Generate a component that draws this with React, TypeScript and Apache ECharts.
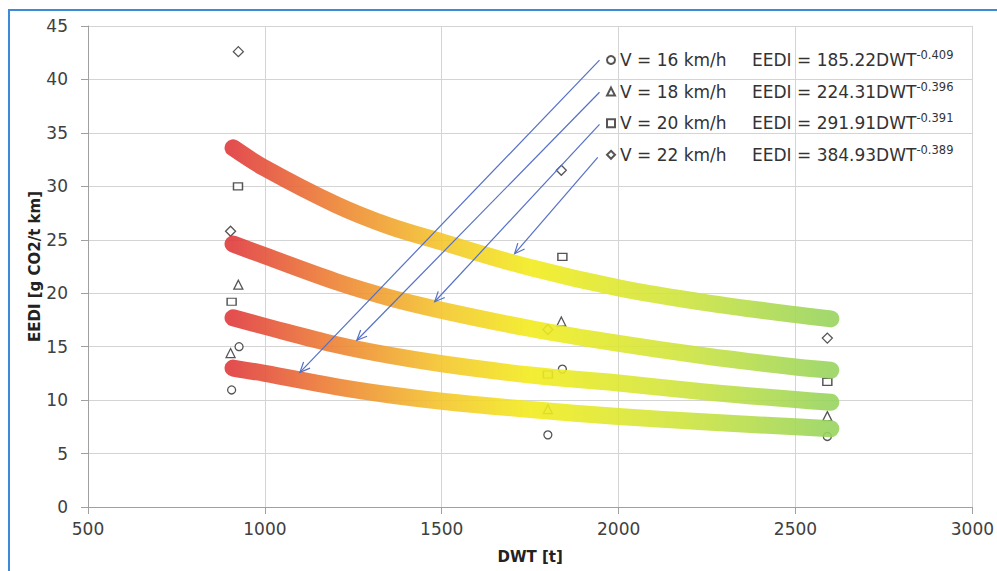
import React, { useEffect, useRef } from 'react';
import * as echarts from 'echarts';

// Fitted curves
const dwtCurve = [910, 1000, 1200, 1350, 1500, 1750, 2000, 2250, 2500, 2600];
const curve16 = [13.0, 12.5, 11.26, 10.5, 9.9, 9.12, 8.47, 7.95, 7.5, 7.33];
const curve18 = [17.7, 16.9, 15.2, 14.2, 13.4, 12.35, 11.6, 10.75, 10.05, 9.8];
const curve20 = [24.6, 23.5, 21.1, 19.6, 18.4, 16.7, 15.3, 14.1, 13.1, 12.8];
const curve22 = [33.6, 31.7, 28.3, 26.3, 24.8, 22.4, 20.5, 19.1, 18.0, 17.6];

// Measured points [DWT, EEDI]
const points16 = [[927, 15.0], [906, 10.95], [1841, 12.9], [1800, 6.75], [2590, 6.6]];
const points18 = [[925, 20.8], [903, 14.4], [1838, 17.35], [1800, 9.15], [2590, 8.5]];
const points20 = [[924, 30.0], [906, 19.2], [1841, 23.4], [1800, 12.4], [2590, 11.7]];
const points22 = [[925, 42.6], [903, 25.8], [1838, 31.5], [1800, 16.6], [2590, 15.8]];

// Legend texts
const speedNames = ['V = 16 km/h', 'V = 18 km/h', 'V = 20 km/h', 'V = 22 km/h'];
const coefs = ['185.22', '224.31', '291.91', '384.93'];
const exps = ['-0.409', '-0.396', '-0.391', '-0.389'];
const symbols = ['circle', 'triangle', 'rect', 'diamond'];
const symbolSizes: any[] = [8, 9, [9, 7], [10, 10]];

// Annotation arrows [x1, y1, x2, y2] in data space
const arrows = [
  [1946, 41.8, 1099, 12.6],
  [1946, 38.8, 1260, 15.6],
  [1946, 35.8, 1480, 19.2],
  [1941, 32.7, 1706, 23.7],
];

const xTicks = { min: 500, max: 3000, interval: 500 };
const yTicks = { min: 0, max: 45, interval: 5 };

const FONT = 'DejaVu Sans';

export default function App() {
  const ref = useRef<HTMLDivElement>(null);
  useEffect(() => {
    document.body.style.margin = '0';
    const chart = echarts.init(ref.current!, null, { renderer: 'svg' });
    const grad = () =>
      new echarts.graphic.LinearGradient(0, 0, 1, 0, [
        { offset: 0, color: '#e03c3c' },
        { offset: 0.15, color: '#ec7a34' },
        { offset: 0.35, color: '#f4c62c' },
        { offset: 0.5, color: '#f2ec1e' },
        { offset: 0.75, color: '#cfe43e' },
        { offset: 1, color: '#98d45e' },
      ]);
    const curves = [curve16, curve18, curve20, curve22];
    const pointSets = [points16, points18, points20, points22];

    const lineSeries = curves.map((c, i) => ({
      type: 'line',
      name: 'fit' + i,
      data: dwtCurve.map((d, j) => [d, c[j]]),
      smooth: 0.35,
      showSymbol: false,
      symbol: 'none',
      z: 3,
      lineStyle: { width: 17, cap: 'round', join: 'round', color: grad(), opacity: 0.9 },
      silent: true,
    }));
    const scatterSeries = pointSets.map((p, i) => ({
      type: 'scatter',
      name: speedNames[i],
      data: p,
      symbol: symbols[i],
      symbolSize: symbolSizes[i],
      z: 2,
      itemStyle: { color: '#ffffff', borderColor: '#2a2a2a', borderWidth: 1.3 },
    }));
    const arrowColor = '#5470c6';
    const arrowSeries = {
      type: 'custom',
      name: 'arrows',
      data: arrows,
      encode: { x: [0, 2], y: [1, 3] },
      z: 5,
      silent: true,
      renderItem: (params: any, api: any) => {
        const p1 = api.coord([api.value(0), api.value(1)]);
        const p2 = api.coord([api.value(2), api.value(3)]);
        const ang = Math.atan2(p2[1] - p1[1], p2[0] - p1[0]);
        const L = 11;
        const A = 0.42;
        const h1 = [p2[0] - L * Math.cos(ang - A), p2[1] - L * Math.sin(ang - A)];
        const h2 = [p2[0] - L * Math.cos(ang + A), p2[1] - L * Math.sin(ang + A)];
        return {
          type: 'group',
          children: [
            { type: 'line', shape: { x1: p1[0], y1: p1[1], x2: p2[0], y2: p2[1] }, style: { stroke: arrowColor, lineWidth: 1.2 } },
            { type: 'polyline', shape: { points: [h1, p2, h2] }, style: { stroke: arrowColor, lineWidth: 1.2, fill: 'none' } },
          ],
        };
      },
    };

    const option: any = {
      animation: false,
      backgroundColor: '#ffffff',
      grid: { left: 88, right: 24, top: 26, bottom: 64 },
      graphic: [
        {
          type: 'rect',
          shape: { x: 9, y: 10, width: 1010, height: 600 },
          style: { fill: 'none', stroke: '#3d8bd8', lineWidth: 2 },
          z: 0,
          silent: true,
        },
      ],
      legend: {
        data: speedNames,
        orient: 'vertical',
        left: 601,
        top: 44,
        itemWidth: 8,
        itemHeight: 8,
        itemGap: 12.1,
        selectedMode: false,
        formatter: (name: string) => {
          const i = speedNames.indexOf(name);
          return `{v|${name}}{e|EEDI = ${coefs[i]}DWT}{s|${exps[i]}}`;
        },
        textStyle: {
          fontFamily: FONT,
          fontSize: 17,
          color: '#333',
          rich: {
            v: { fontFamily: FONT, fontSize: 17, color: '#333', width: 132, lineHeight: 22 },
            e: { fontFamily: FONT, fontSize: 17, color: '#333', lineHeight: 22 },
            s: { fontFamily: FONT, fontSize: 11.5, color: '#333', lineHeight: 14, verticalAlign: 'top' },
          },
        },
      },
      xAxis: {
        type: 'value',
        ...xTicks,
        name: 'DWT [t]',
        nameLocation: 'middle',
        nameGap: 42,
        nameTextStyle: { fontFamily: FONT, fontSize: 15, fontWeight: 'bold', color: '#222' },
        axisLine: { lineStyle: { color: '#a0a0a0' } },
        axisTick: { show: true, length: 7, lineStyle: { color: '#a0a0a0' } },
        axisLabel: { margin: 13, fontFamily: FONT, fontSize: 17, color: '#404040', formatter: (v: number) => String(v) },
        splitLine: { show: true, lineStyle: { color: '#d4d4d4' } },
      },
      yAxis: {
        type: 'value',
        ...yTicks,
        name: 'EEDI [g CO2/t km]',
        nameLocation: 'middle',
        nameGap: 46,
        nameMoveOverlap: false,
        nameTextStyle: { fontFamily: FONT, fontSize: 15, fontWeight: 'bold', color: '#222' },
        axisLine: { show: true, lineStyle: { color: '#a0a0a0' } },
        axisTick: { show: true, length: 7, lineStyle: { color: '#a0a0a0' } },
        axisLabel: { margin: 20, fontFamily: FONT, fontSize: 17, color: '#404040' },
        splitLine: { show: true, lineStyle: { color: '#d4d4d4' } },
      },
      series: [...scatterSeries, ...lineSeries, arrowSeries],
    };
    chart.setOption(option);
    return () => chart.dispose();
  }, []);
  return <div ref={ref} style={{ width: 997, height: 571 }} />;
}
